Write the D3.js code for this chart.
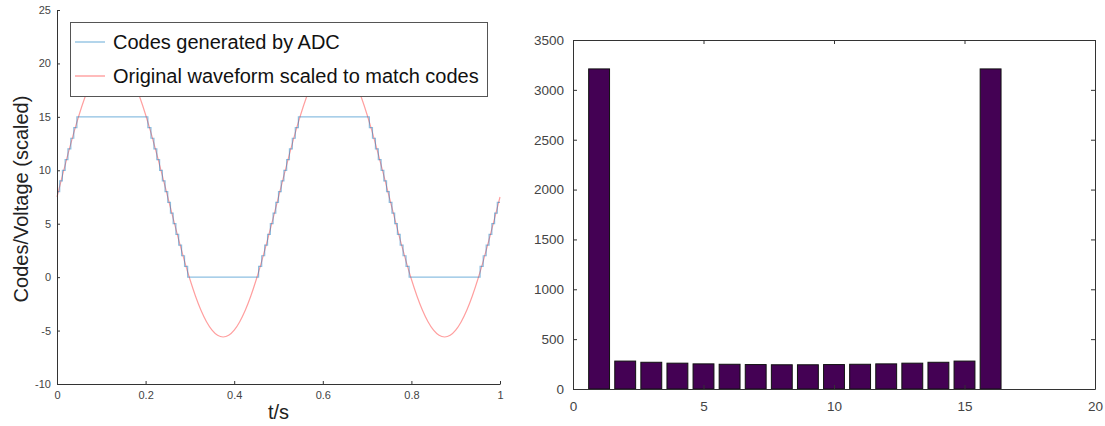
<!DOCTYPE html>
<html>
<head>
<meta charset="utf-8">
<script src="https://cdn.jsdelivr.net/npm/d3@7"></script>
<style>
  html, body { margin: 0; padding: 0; background: #fff; }
  svg { display: block; font-family: "Liberation Sans", Arial, sans-serif; }
  .tick text { fill: #444; }
  .domain, .tick line { stroke: #333; }
</style>
</head>
<body>
<svg id="chart" width="1105" height="426"></svg>
<script>
// Sampled analogue waveform (scaled to code units), one value every 12.5 ms over 1 s
const waveT = d3.range(81).map(i => i / 80);
const waveV = [
  7.50, 9.55, 11.55, 13.45, 15.20, 16.76, 18.10, 19.17, 19.96, 20.44, 20.60,
  20.44, 19.96, 19.17, 18.10, 16.76, 15.20, 13.45, 11.55, 9.55, 7.50,
  5.45, 3.45, 1.55, -0.20, -1.76, -3.10, -4.17, -4.96, -5.44, -5.60,
  -5.44, -4.96, -4.17, -3.10, -1.76, -0.20, 1.55, 3.45, 5.45,
  7.50, 9.55, 11.55, 13.45, 15.20, 16.76, 18.10, 19.17, 19.96, 20.44, 20.60,
  20.44, 19.96, 19.17, 18.10, 16.76, 15.20, 13.45, 11.55, 9.55, 7.50,
  5.45, 3.45, 1.55, -0.20, -1.76, -3.10, -4.17, -4.96, -5.44, -5.60,
  -5.44, -4.96, -4.17, -3.10, -1.76, -0.20, 1.55, 3.45, 5.45,
  7.50
];

// ADC output: time (s) at which each new code starts
const codeT = [
  0, 0.0061, 0.0122, 0.0184, 0.0247, 0.0312, 0.0379, 0.0449,
  0.2051, 0.2121, 0.2188, 0.2253, 0.2316, 0.2378, 0.2439, 0.2500,
  0.2561, 0.2622, 0.2684, 0.2747, 0.2812, 0.2879, 0.2949,
  0.4551, 0.4621, 0.4688, 0.4753, 0.4816, 0.4878, 0.4939, 0.5000,
  0.5061, 0.5122, 0.5184, 0.5247, 0.5312, 0.5379, 0.5449,
  0.7051, 0.7121, 0.7188, 0.7253, 0.7316, 0.7378, 0.7439, 0.7500,
  0.7561, 0.7622, 0.7684, 0.7747, 0.7812, 0.7879, 0.7949,
  0.9551, 0.9621, 0.9688, 0.9753, 0.9816, 0.9878, 0.9939, 1.0
];
const codeV = [
  8, 9, 10, 11, 12, 13, 14, 15,
  14, 13, 12, 11, 10, 9, 8, 7,
  6, 5, 4, 3, 2, 1, 0,
  1, 2, 3, 4, 5, 6, 7, 8,
  9, 10, 11, 12, 13, 14, 15,
  14, 13, 12, 11, 10, 9, 8, 7,
  6, 5, 4, 3, 2, 1, 0,
  1, 2, 3, 4, 5, 6, 7, 7
];

// Histogram of ADC codes (bins 1..16 correspond to codes 0..15)
const histBins = d3.range(1, 17);
const histCounts = [3210, 280, 268, 259, 252, 248, 245, 243, 243, 245, 248, 252, 259, 268, 280, 3210];

const legendLabels = ["Codes generated by ADC", "Original waveform scaled to match codes"];
const leftYTicks = [-10, -5, 0, 5, 10, 15, 20, 25];
const leftXTicks = [0, 0.2, 0.4, 0.6, 0.8, 1];
const rightYTicks = d3.range(0, 3501, 500);
const rightXTicks = [0, 5, 10, 15, 20];

const svg = d3.select("#chart");

// ---------- Left panel: waveform and ADC codes ----------
const L = { x0: 57, x1: 500, y0: 384, y1: 10 };
const xL = d3.scaleLinear().domain([0, 1]).range([L.x0, L.x1]);
const yL = d3.scaleLinear().domain([-10, 25]).range([L.y0, L.y1]);

const left = svg.append("g");

left.append("path")
  .datum(waveT.map((t, i) => [t, waveV[i]]))
  .attr("fill", "none")
  .attr("stroke", "#ff0000")
  .attr("stroke-opacity", 0.38)
  .attr("stroke-width", 1.2)
  .attr("d", d3.line().x(d => xL(d[0])).y(d => yL(d[1])).curve(d3.curveNatural));

left.append("path")
  .datum(codeT.map((t, i) => [t, codeV[i]]))
  .attr("fill", "none")
  .attr("stroke", "#0072bd")
  .attr("stroke-opacity", 0.45)
  .attr("stroke-width", 1.2)
  .attr("d", d3.line().x(d => xL(d[0])).y(d => yL(d[1])).curve(d3.curveStepAfter));

const plain = d => String(d);

left.append("g")
  .attr("transform", `translate(${L.x0},0)`)
  .call(d3.axisLeft(yL).tickValues(leftYTicks).tickFormat(plain).tickSizeInner(-3).tickSizeOuter(0).tickPadding(6))
  .call(g => g.selectAll("text").style("font-size", "11px"));

left.append("g")
  .attr("transform", `translate(0,${L.y0})`)
  .call(d3.axisBottom(xL).tickValues(leftXTicks).tickFormat(plain).tickSizeInner(-3).tickSizeOuter(0).tickPadding(7))
  .call(g => g.selectAll("text").style("font-size", "11px"));

svg.append("text")
  .attr("transform", "translate(28,199) rotate(-90)")
  .attr("text-anchor", "middle")
  .style("font-size", "20px")
  .attr("fill", "#222")
  .text("Codes/Voltage (scaled)");

svg.append("text")
  .attr("x", (L.x0 + L.x1) / 2)
  .attr("y", 419)
  .attr("text-anchor", "middle")
  .style("font-size", "20px")
  .attr("fill", "#222")
  .text("t/s");

// Legend
const leg = svg.append("g");
leg.append("rect")
  .attr("x", 70.5).attr("y", 22.5)
  .attr("width", 417).attr("height", 74)
  .attr("fill", "#fff")
  .attr("stroke", "#555")
  .attr("stroke-width", 1);
const legColors = [["#0072bd", 0.5], ["#ff0000", 0.45]];
legendLabels.forEach((lab, i) => {
  const cy = 42 + i * 34;
  leg.append("line")
    .attr("x1", 75).attr("x2", 105).attr("y1", cy).attr("y2", cy)
    .attr("stroke", legColors[i][0]).attr("stroke-opacity", legColors[i][1]).attr("stroke-width", 1.2);
  leg.append("text")
    .attr("x", 113).attr("y", cy + 7)
    .style("font-size", "20px")
    .attr("fill", "#111")
    .text(lab);
});

// ---------- Right panel: code histogram ----------
const R = { x0: 573, x1: 1095, y0: 389, y1: 40 };
const xR = d3.scaleLinear().domain([0, 20]).range([R.x0, R.x1]);
const yR = d3.scaleLinear().domain([0, 3500]).range([R.y0, R.y1]);

const right = svg.append("g");
const barW = 0.8;

right.selectAll("rect.bar")
  .data(histBins.map((b, i) => ({ b, c: histCounts[i] })))
  .join("rect")
  .attr("class", "bar")
  .attr("x", d => xR(d.b - barW / 2))
  .attr("width", d => xR(d.b + barW / 2) - xR(d.b - barW / 2))
  .attr("y", d => yR(d.c))
  .attr("height", d => yR(0) - yR(d.c))
  .attr("fill", "#440154")
  .attr("stroke", "#111")
  .attr("stroke-width", 1);

right.append("g")
  .attr("transform", `translate(${R.x0},0)`)
  .call(d3.axisLeft(yR).tickValues(rightYTicks).tickFormat(plain).tickSizeInner(-4).tickSizeOuter(0).tickPadding(9))
  .call(g => g.selectAll("text").style("font-size", "13.5px"));
right.append("g")
  .attr("transform", `translate(${R.x1},0)`)
  .call(d3.axisRight(yR).tickValues(rightYTicks).tickFormat("").tickSizeInner(-4).tickSizeOuter(0));
right.append("g")
  .attr("transform", `translate(0,${R.y0})`)
  .call(d3.axisBottom(xR).tickValues(rightXTicks).tickFormat(plain).tickSizeInner(-4).tickSizeOuter(0).tickPadding(12))
  .call(g => g.selectAll("text").style("font-size", "13.5px"));
right.append("g")
  .attr("transform", `translate(0,${R.y1})`)
  .call(d3.axisTop(xR).tickValues(rightXTicks).tickFormat("").tickSizeInner(-4).tickSizeOuter(0));
</script>
</body>
</html>
